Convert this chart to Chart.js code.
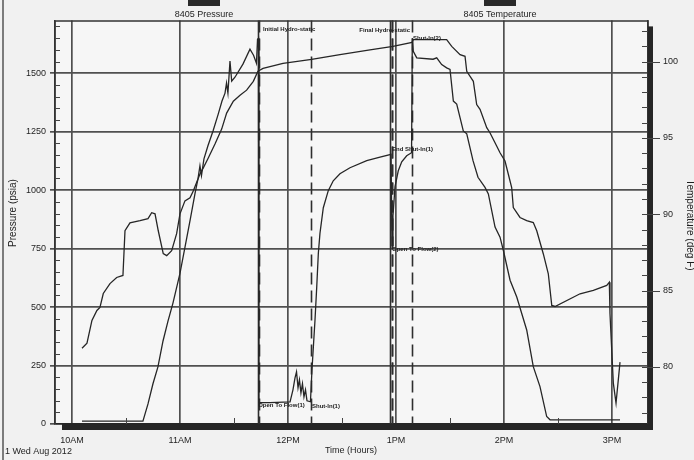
<!DOCTYPE html>
<html>
<head>
<meta charset="utf-8">
<script src="https://cdn.jsdelivr.net/npm/chart.js@4.4.1/dist/chart.umd.min.js"></script>
<style>
  html, body { margin: 0; padding: 0; background: #f1f1f1; }
  #wrap { width: 694px; height: 460px; }
</style>
</head>
<body>
<div id="wrap"><canvas id="c" width="694" height="460"></canvas></div>
<script>
// ---------------- data ----------------
const seriesNames = ['8405 Pressure', '8405 Temperature'];

const pressureTimes = [
  10.093, 10.657, 10.704, 10.750, 10.796, 10.843, 10.889, 10.935, 11.000, 11.046,
  11.093, 11.139, 11.167, 11.185, 11.199, 11.222, 11.259, 11.306, 11.352, 11.389,
  11.417, 11.431, 11.444, 11.463, 11.479, 11.509, 11.583, 11.648, 11.681, 11.708,
  11.718, 11.727, 11.731, 11.833, 12.019, 12.046, 12.065, 12.079, 12.093, 12.106,
  12.120, 12.134, 12.148, 12.162, 12.176, 12.208, 12.222, 12.236, 12.250, 12.266,
  12.281, 12.296, 12.327, 12.373, 12.419, 12.481, 12.574, 12.729, 12.852, 12.954,
  12.963, 12.972, 12.991, 13.021, 13.053, 13.099, 13.144, 13.151, 13.160, 13.192,
  13.343, 13.377, 13.423, 13.469, 13.500, 13.531, 13.562, 13.623, 13.655, 13.713,
  13.759, 13.824, 13.855, 13.917, 13.963, 13.994, 14.056, 14.118, 14.210, 14.271,
  14.333, 14.395, 14.426, 15.074
];
const pressureValues = [
  12, 12, 86, 172, 244, 355, 440, 517, 644, 755,
  870, 985, 1049, 1104, 1062, 1134, 1190, 1253, 1322, 1381,
  1415, 1458, 1415, 1552, 1466, 1483, 1539, 1603, 1577, 1543,
  1645, 1650, 91, 91, 95, 146, 197, 223, 155, 189,
  133, 172, 116, 146, 99, 95, 231, 338, 444, 585,
  730, 815, 925, 998, 1040, 1070, 1096, 1126, 1141, 1153,
  764, 891, 1015, 1083, 1121, 1147, 1160, 1650, 1594, 1566,
  1560, 1566, 1537, 1523, 1516, 1381, 1368, 1253, 1241, 1126,
  1055, 1012, 984, 842, 799, 742, 615, 543, 402, 245,
  160, 32, 18, 18
];

const temperatureTimes = [
  10.093, 10.139, 10.185, 10.231, 10.259, 10.290, 10.352, 10.414, 10.472, 10.491,
  10.537, 10.630, 10.704, 10.738, 10.769, 10.799, 10.845, 10.877, 10.923, 10.969,
  11.000, 11.046, 11.093, 11.123, 11.185, 11.216, 11.262, 11.324, 11.386, 11.432,
  11.494, 11.556, 11.617, 11.679, 11.722, 11.769, 11.954, 12.219, 12.481, 12.759,
  12.972, 13.148, 13.160, 13.469, 13.516, 13.593, 13.639, 13.655, 13.716, 13.747,
  13.778, 13.840, 13.870, 13.932, 13.963, 14.009, 14.040, 14.071, 14.086, 14.148,
  14.210, 14.271, 14.303, 14.364, 14.410, 14.442, 14.472, 14.704, 14.827, 14.951,
  14.975, 14.981, 15.012, 15.037, 15.074
];
const temperatureValues = [
  81.22, 81.55, 83.05, 83.70, 83.90, 84.81, 85.46, 85.86, 85.99, 88.92,
  89.44, 89.58, 89.71, 90.10, 90.03, 88.92, 87.42, 87.29, 87.62, 88.73,
  90.03, 90.88, 91.08, 91.53, 92.64, 93.04, 93.69, 94.60, 95.58, 96.63,
  97.41, 97.80, 98.13, 98.71, 99.37, 99.56, 99.89, 100.15, 100.46, 100.77,
  101.00, 101.26, 101.44, 101.44, 101.00, 100.46, 100.35, 99.37, 98.71, 97.19,
  96.87, 95.67, 95.34, 94.47, 94.03, 93.49, 92.62, 91.75, 90.44, 89.79,
  89.58, 89.46, 88.92, 87.40, 86.10, 84.03, 83.96, 84.79, 85.01, 85.34,
  85.55, 83.50, 78.94, 77.63, 80.31
];

const timeTickValues = [10, 11, 12, 13, 14, 15];
const timeTickLabels = ['10AM', '11AM', '12PM', '1PM', '2PM', '3PM'];
const pressureTickValues = [0, 250, 500, 750, 1000, 1250, 1500];
const pressureTickLabels = ['0', '250', '500', '750', '1000', '1250', '1500'];
const temperatureTickValues = [80, 85, 90, 95, 100];
const temperatureTickLabels = ['80', '85', '90', '95', '100'];

// test events (time in hours)
const eventTimes = [11.722, 11.736, 12.213, 12.949, 12.963, 12.963, 13.144];
const eventNames = ['Initial Hydro-static', 'Open To Flow(1)', 'Shut-In(1)',
                    'Final Hydro-static', 'End Shut-In(1)', 'Open To Flow(2)', 'Shut-In(2)'];

// ---------------- presentation ----------------
const FONT = "'Liberation Sans', Arial, sans-serif";
const INK = '#1e1e1e';
const GRID = '#505050';

// where each event label is written: [time, pressure, align]
const eventLabelPlacement = {
  'Initial Hydro-static': [11.769, 1688, 'left'],
  'Open To Flow(1)':      [11.724, 80, 'left'],
  'Shut-In(1)':           [12.222, 76, 'left'],
  'Final Hydro-static':   [13.130, 1684, 'right'],
  'End Shut-In(1)':       [12.963, 1173, 'left'],
  'Open To Flow(2)':      [12.963, 747, 'left'],
  'Shut-In(2)':           [13.157, 1650, 'left']
};

const toXY = (xs, ys) => xs.map((t, i) => ({ x: t, y: ys[i] }));

const decor = {
  id: 'decor',
  beforeDraw(chart) {
    const { ctx, chartArea: a, width, height } = chart;
    ctx.save();
    ctx.fillStyle = '#f1f1f1';
    ctx.fillRect(0, 0, width, height);
    ctx.fillStyle = '#f6f6f6';
    ctx.fillRect(a.left, a.top, a.right - a.left, a.bottom - a.top);
    ctx.restore();
  },
  beforeDatasetsDraw(chart) {
    const { ctx, chartArea: a, scales } = chart;
    ctx.save();
    ctx.strokeStyle = '#2e2e2e';
    ctx.lineWidth = 1.6;
    eventTimes.forEach((t, i) => {
      const x = Math.round(scales.x.getPixelForValue(t)) + 0.5;
      const solid = /Hydro/.test(eventNames[i]);
      ctx.setLineDash(solid ? [] : [12, 6]);
      ctx.beginPath();
      ctx.moveTo(x, a.top);
      ctx.lineTo(x, a.bottom);
      ctx.stroke();
    });
    ctx.restore();
  },
  afterDraw(chart) {
    const { ctx, chartArea: a, scales } = chart;
    const xs = scales.x, ys = scales.y, ts = scales.y2;
    ctx.save();
    ctx.strokeStyle = '#333';
    ctx.fillStyle = '#2a2a2a';

    // plot frame (top + left + right)
    ctx.lineWidth = 1.5;
    ctx.beginPath();
    ctx.moveTo(a.left, a.bottom); ctx.lineTo(a.left, a.top + 0.5);
    ctx.lineTo(a.right, a.top + 0.5); ctx.lineTo(a.right, a.bottom);
    ctx.stroke();

    // drop shadow bars (bottom and right)
    ctx.fillStyle = '#262626';
    ctx.fillRect(a.left + 7, a.bottom, a.right - a.left - 2, 6);
    ctx.fillRect(a.right, a.top + 6, 5, a.bottom - a.top);

    // minor ticks left (every 50 psi, inside)
    ctx.strokeStyle = '#444';
    ctx.lineWidth = 1;
    for (let p = 50; p <= 1700; p += 50) {
      if (p % 250 === 0) continue;
      const y = Math.round(ys.getPixelForValue(p)) + 0.5;
      ctx.beginPath(); ctx.moveTo(a.left, y); ctx.lineTo(a.left + 5, y); ctx.stroke();
    }
    // right axis ticks: minor inside, major outside
    for (let t = 77; t <= 102; t++) {
      const y = Math.round(ts.getPixelForValue(t)) + 0.5;
      ctx.beginPath(); ctx.moveTo(a.right - 6, y); ctx.lineTo(a.right, y); ctx.stroke();
      if (t % 5 === 0) {
        ctx.beginPath(); ctx.moveTo(a.right, y); ctx.lineTo(a.right + 12, y); ctx.stroke();
      }
    }
    // half hour ticks on time axis (inside)
    for (let h = 10.5; h < 15.3; h += 1) {
      const x = Math.round(xs.getPixelForValue(h)) + 0.5;
      ctx.beginPath(); ctx.moveTo(x, a.bottom); ctx.lineTo(x, a.bottom - 6); ctx.stroke();
    }

    // event labels
    ctx.fillStyle = '#222';
    ctx.font = 'bold 6px ' + FONT;
    ctx.textBaseline = 'middle';
    eventNames.forEach(name => {
      const pl = eventLabelPlacement[name];
      if (!pl) return;
      ctx.textAlign = pl[2];
      ctx.fillText(name, xs.getPixelForValue(pl[0]), ys.getPixelForValue(pl[1]));
    });

    // legend
    const legendCenters = [204, 500];
    ctx.font = '9px ' + FONT;
    ctx.textAlign = 'center';
    seriesNames.forEach((n, i) => {
      ctx.fillStyle = '#2a2a2a';
      ctx.fillRect(legendCenters[i] - 16, 0, 32, 6);
      ctx.fillStyle = INK;
      ctx.fillText(n, legendCenters[i], 15);
    });

    // axis titles and footer
    ctx.fillStyle = INK;
    ctx.font = '9px ' + FONT;
    ctx.textAlign = 'center';
    ctx.fillText('Time (Hours)', 351, 451);
    ctx.textAlign = 'left';
    ctx.fillText('1 Wed Aug 2012', 5, 452);

    ctx.save();
    ctx.font = '10px ' + FONT;
    ctx.textAlign = 'center';
    ctx.translate(13, 213);
    ctx.rotate(-Math.PI / 2);
    ctx.fillText('Pressure (psia)', 0, 0);
    ctx.restore();

    ctx.save();
    ctx.font = '10px ' + FONT;
    ctx.textAlign = 'center';
    ctx.translate(690, 225);
    ctx.rotate(Math.PI / 2);
    ctx.fillText('Temperature (deg F)', 0, 0);
    ctx.restore();

    // scanned page edge on the left
    ctx.strokeStyle = '#555';
    ctx.lineWidth = 1.5;
    ctx.beginPath(); ctx.moveTo(3, 0); ctx.lineTo(3, 460); ctx.stroke();

    ctx.restore();
  }
};

new Chart(document.getElementById('c'), {
  type: 'line',
  data: {
    datasets: [
      {
        label: seriesNames[0],
        data: toXY(pressureTimes, pressureValues),
        yAxisID: 'y',
        borderColor: '#262626',
        borderWidth: 1.3,
        pointRadius: 0,
        tension: 0,
        fill: false
      },
      {
        label: seriesNames[1],
        data: toXY(temperatureTimes, temperatureValues),
        yAxisID: 'y2',
        borderColor: '#262626',
        borderWidth: 1.3,
        pointRadius: 0,
        tension: 0,
        fill: false
      }
    ]
  },
  options: {
    responsive: false,
    animation: false,
    devicePixelRatio: 1,
    layout: { padding: { top: 19, left: 0, right: 0, bottom: 0 } },
    plugins: { legend: { display: false }, tooltip: { enabled: false } },
    scales: {
      x: {
        type: 'linear',
        min: 9.843,
        max: 15.333,
        afterBuildTicks: s => { s.ticks = timeTickValues.map(v => ({ value: v })); },
        afterFit: s => { s.height = 36; },
        ticks: {
          autoSkip: false, maxRotation: 0, padding: 11,
          color: INK, font: { family: FONT, size: 9 },
          callback: v => timeTickLabels[timeTickValues.indexOf(v)]
        },
        grid: { color: GRID, lineWidth: 1.7, drawTicks: false },
        border: { display: true, color: '#262626', width: 1.5 }
      },
      y: {
        position: 'left',
        min: 0,
        max: 1726,
        afterBuildTicks: s => { s.ticks = pressureTickValues.map(v => ({ value: v })); },
        afterFit: s => { s.width = 55; },
        ticks: {
          padding: 4, color: INK, font: { family: FONT, size: 9 },
          callback: v => pressureTickLabels[pressureTickValues.indexOf(v)]
        },
        grid: { color: GRID, lineWidth: 1.7, tickLength: 5 },
        border: { display: true, color: '#333', width: 1.5 }
      },
      y2: {
        position: 'right',
        min: 76.26,
        max: 102.7,
        afterBuildTicks: s => { s.ticks = temperatureTickValues.map(v => ({ value: v })); },
        afterFit: s => { s.width = 46; },
        ticks: {
          padding: 15, color: INK, font: { family: FONT, size: 9 },
          callback: v => temperatureTickLabels[temperatureTickValues.indexOf(v)]
        },
        grid: { drawOnChartArea: false, drawTicks: false },
        border: { display: true, color: '#333', width: 1.5 }
      }
    }
  },
  plugins: [decor]
});
</script>
</body>
</html>
